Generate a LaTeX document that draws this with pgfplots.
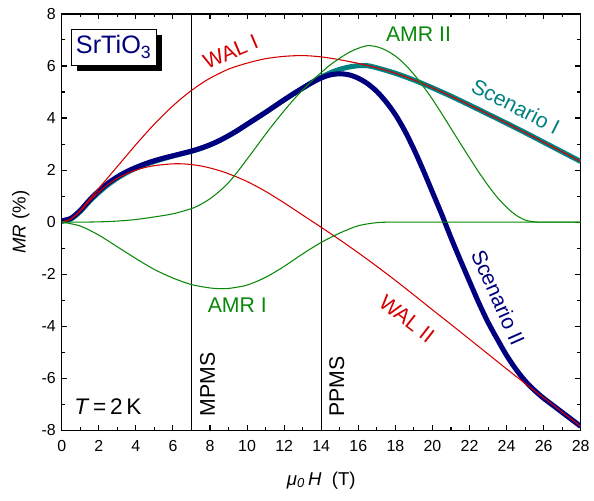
\documentclass[border=0pt]{standalone}
\usepackage{fontspec}
\setmainfont{Liberation Sans}
\usepackage{pgfplots}
\pgfplotsset{compat=1.18}
\usetikzlibrary{shadows}
\definecolor{cnavy}{HTML}{00007F}
\definecolor{cteal}{HTML}{008080}
\definecolor{cred}{HTML}{D40000}
\definecolor{cgreen}{HTML}{0A880A}
\begin{document}
\begin{tikzpicture}
\begin{axis}[
  scale only axis,
  width=390.75pt, height=313.5pt,
  xmin=0, xmax=28, ymin=-8, ymax=8,
  xtick={0,2,...,28}, ytick={-8,-6,...,8},
  minor xtick={1,3,...,27}, minor ytick={-7,-5,...,7},
  tick align=inside,
  major tick length=4pt, minor tick length=2.5pt,
  every tick/.style={black, line width=0.8pt},
  axis line style={line width=1.1pt},
  tick label style={font=\fontsize{12}{14}\selectfont},
  xticklabel style={yshift=-4pt},
  yticklabel style={xshift=-1pt},
  /pgf/number format/assume math mode=true,
  every axis y label/.style={at={(axis description cs:-0.079,0.5)}, rotate=90, anchor=center},
  every axis x label/.style={at={(axis description cs:0.5,-0.12)}, anchor=center},
  xlabel={\textit{μ}\textsubscript{\textit{0}}\,\textit{H}\ \ (T)},
  ylabel={\textit{MR} (\%)},
  label style={font=\fontsize{14}{16}\selectfont},
]
% vertical lines
\addplot[black, line width=0.7pt] coordinates {(7,-8) (7,8)};
\addplot[black, line width=0.7pt] coordinates {(14,-8) (14,8)};
% Scenario I (teal)
\addplot[cteal, line width=3.8pt, smooth] coordinates {
(0,0.03) (0.5,0.12) (1,0.41) (1.5,0.8) (2,1.14) (2.5,1.44) (3,1.69) (3.5,1.9) (4,2.07)
(4.5,2.21) (5,2.33) (5.5,2.44) (6,2.54) (6.5,2.63) (7,2.72) (7.5,2.83) (8,2.97) (8.5,3.13)
(9,3.32) (9.5,3.53) (10,3.76) (10.5,3.99) (11,4.22) (11.5,4.46) (12,4.7) (12.5,4.93)
(13,5.15) (13.5,5.37) (14,5.57) (14.5,5.74) (15,5.87) (15.5,5.96) (16,6.01) (16.5,6.01)
(17,5.93) (18,5.72) (19,5.46) (20,5.16) (21,4.84) (22,4.5) (23,4.15) (24,3.8) (25,3.44)
(26,3.07) (27,2.7) (28,2.33)};
% Scenario II (navy)
\addplot[cnavy, line width=3.8pt, smooth] coordinates {
(0,0.05) (0.5,0.15) (1,0.45) (1.5,0.85) (2,1.2) (2.5,1.5) (3,1.74) (3.5,1.94) (4,2.1)
(4.5,2.24) (5,2.36) (5.5,2.46) (6,2.55) (6.5,2.64) (7,2.73) (7.5,2.84) (8,2.97) (8.5,3.13)
(9,3.32) (9.5,3.53) (10,3.76) (10.5,3.99) (11,4.22) (11.5,4.46) (12,4.7) (12.5,4.93)
(13,5.15) (13.5,5.36) (14,5.54) (14.5,5.66) (15,5.70) (15.5,5.66) (16,5.53) (16.5,5.32)
(17,5.02) (17.5,4.62) (18,4.13) (18.5,3.52) (19,2.8) (19.5,2.0) (20,1.15) (20.5,0.3)
(21,-0.6) (21.5,-1.45) (22,-2.28) (22.5,-3.1) (23,-3.85) (23.5,-4.5) (24,-5.12)
(24.5,-5.65) (25,-6.1) (25.5,-6.46) (26,-6.77) (26.5,-7.04) (27,-7.31) (27.5,-7.58) (28,-7.85)};
% WAL I
\addplot[cred, line width=0.8pt, smooth] coordinates {
(0,0) (0.5,0.12) (1,0.45) (1.5,0.88) (2,1.3) (2.5,1.72) (3,2.14) (3.5,2.56) (4,2.98)
(4.5,3.38) (5,3.77) (5.5,4.13) (6,4.47) (6.5,4.78) (7,5.06) (7.5,5.31) (8,5.53) (9,5.88)
(10,6.11) (11,6.28) (12,6.37) (13,6.4) (14,6.35) (15,6.24) (16,6.1) (17,5.93) (18,5.72)
(19,5.46) (20,5.16) (21,4.84) (22,4.5) (23,4.15) (24,3.8) (25,3.44) (26,3.07) (27,2.7) (28,2.33)};
% WAL II
\addplot[cred, line width=0.8pt, smooth] coordinates {
(0,0) (0.5,0.12) (1,0.42) (1.5,0.82) (2,1.15) (2.5,1.45) (3,1.68) (3.5,1.86) (4,2.0)
(4.5,2.1) (5,2.17) (5.5,2.21) (6,2.24) (6.5,2.24) (7,2.21) (7.5,2.16) (8,2.08) (8.5,1.98)
(9,1.86) (10,1.56) (11,1.18) (12,0.74) (13,0.27) (14,-0.2) (15,-0.68) (16,-1.18)
(17,-1.7) (18,-2.24) (19,-2.8) (20,-3.37) (21,-3.93) (22,-4.5) (23,-5.07) (24,-5.64)
(25,-6.2) (26,-6.75) (27,-7.3) (28,-7.85)};
% AMR I
\addplot[cgreen, line width=0.8pt, smooth] coordinates {
(0,0) (1,-0.15) (2,-0.5) (3,-0.95) (4,-1.4) (5,-1.82) (6,-2.15) (7,-2.4) (8,-2.53)
(8.67,-2.56) (9,-2.55) (10,-2.42) (11,-2.12) (12,-1.7) (13,-1.22) (14,-0.78)
(15,-0.42) (16,-0.14) (17,-0.02) (18,0) (20,0) (24,0) (28,0)};
% AMR II
\addplot[cgreen, line width=0.8pt, smooth] coordinates {
(0,0) (1,0) (2,0.01) (3,0.04) (4,0.1) (5,0.2) (6,0.32) (7,0.52) (7.5,0.68) (8,0.9)
(8.5,1.18) (9,1.52) (9.5,1.95) (10,2.42) (10.5,2.9) (11,3.38) (11.5,3.84) (12,4.28)
(12.5,4.7) (13,5.08) (13.5,5.43) (14,5.75) (14.5,6.05) (15,6.3) (15.5,6.52) (16,6.68)
(16.5,6.78) (17,6.74) (17.5,6.6) (18,6.38) (18.5,6.07) (19,5.68) (19.5,5.22) (20,4.72)
(20.5,4.17) (21,3.6) (21.5,3.03) (22,2.47) (22.5,1.92) (23,1.41) (23.5,0.95) (24,0.57)
(24.5,0.27) (25,0.08) (25.5,0.01) (26,0) (28,0)};
% labels
\node[draw=black, line width=0.6pt, fill=white, text=cnavy, inner sep=2pt,
      minimum width=64pt, minimum height=27pt,
      drop shadow={shadow xshift=4.5pt, shadow yshift=-4.5pt, fill=black, opacity=1},
      font=\fontsize{19}{21}\selectfont] at (2.8,6.73) {SrTiO\textsubscript{3}};
\node[text=cred, rotate=23, font=\fontsize{16}{18}\selectfont] at (9.11,6.55) {WAL I};
\node[text=cgreen, font=\fontsize{16}{18}\selectfont] at (19.25,7.24) {AMR II};
\node[text=cteal, rotate=-27, font=\fontsize{16}{18}\selectfont] at (24.5,4.45) {Scenario I};
\node[text=cnavy, rotate=-66, font=\fontsize{16}{18}\selectfont] at (23.55,-2.9) {Scenario II};
\node[text=cred, rotate=-38, font=\fontsize{16}{18}\selectfont] at (18.62,-3.71) {WAL II};
\node[text=cgreen, font=\fontsize{16}{18}\selectfont] at (9.47,-3.2) {AMR I};
\node[rotate=90, font=\fontsize{16}{18}\selectfont] at (7.87,-6.23) {MPMS};
\node[rotate=90, font=\fontsize{16}{18}\selectfont] at (14.84,-6.33) {PPMS};
\node[font=\fontsize{17}{19}\selectfont] at (2.49,-7.09) {\textit{T}\,=\,2\,K};
\end{axis}
\path (current axis.south west) ++(-46.5pt,-52.5pt);
\path (current axis.north east) ++(8.25pt,10.5pt);
\end{tikzpicture}
\end{document}
